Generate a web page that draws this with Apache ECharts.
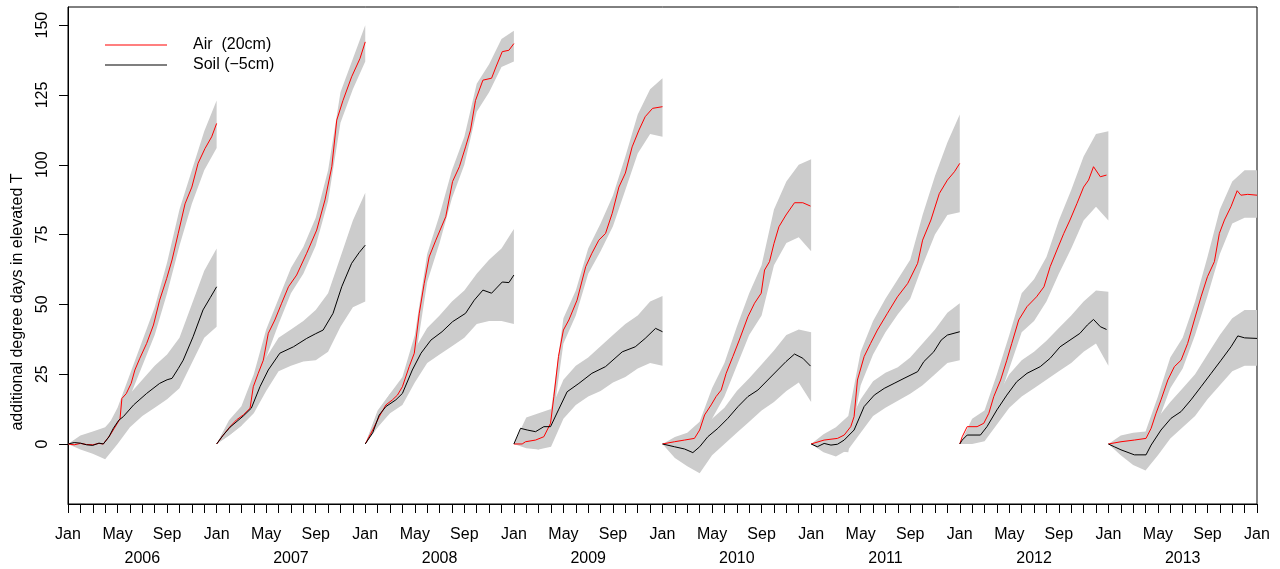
<!DOCTYPE html>
<html>
<head>
<meta charset="utf-8">
<script src="https://cdn.jsdelivr.net/npm/echarts@6/dist/echarts.min.js"></script>
<style>
html,body{margin:0;padding:0;background:#fff;}
#chart{width:1280px;height:569px;}
</style>
</head>
<body>
<div id="chart"></div>
<script>
// ---- tick labels / categories ----
const years = ['2006','2007','2008','2009','2010','2011','2012','2013'];
const monthNames = ['Jan','','','','May','','','','Sep','','',''];
const yTicks = [0, 25, 50, 75, 100, 125, 150];
const yTitle = 'additional degree days in elevated T';
const airName = 'Air  (20cm)';
const soilName = 'Soil (\u22125cm)';

// ---- mean lines: [month within year, value] ----
const air2006 = [[0,0],[0.5,-0.3],[1,0.2],[1.5,-0.2],[2,-0.3],[2.5,0.2],[2.85,0],[3.4,3.2],[3.9,6.8],[4.2,9],[4.35,16.3],[4.7,18],[5.1,21.7],[5.4,26.5],[5.8,30.7],[6.35,36],[6.9,42.6],[7.4,51.5],[7.97,59.3],[8.4,65.9],[8.9,75.4],[9.45,86],[10.0,92],[10.5,100.5],[11.06,105.8],[11.6,110],[12,114.8]];
const soil2006 = [[0,0],[0.5,0.5],[1,0.3],[1.5,-0.3],[2,-0.5],[2.5,0.3],[2.85,0],[3.3,2.5],[3.66,5.6],[4.1,8.5],[4.47,9.8],[5.3,14],[6.35,18.1],[7.4,21.7],[8,23],[8.4,23.5],[8.9,27],[9.3,30],[10.1,38.4],[10.9,48],[11.5,52.5],[12,56.3]];
const air2007 = [[0,0],[0.54,3.2],[1.08,6.2],[1.6,8.6],[2.15,10.4],[2.7,12.8],[2.96,20.5],[3.36,25.3],[3.77,30],[4.17,39.6],[4.7,44.4],[5.25,50.4],[5.8,56.3],[6.46,60.5],[7.27,68.3],[8.08,76.6],[8.75,87.4],[9.3,99.3],[9.7,116],[10.2,123],[10.9,131.5],[11.57,138],[12,144]];
const soil2007 = [[0,0],[0.5,3],[1.08,6],[2.15,10],[2.8,12.8],[3.5,20.5],[4.17,26.5],[5.1,32.5],[6.2,34.8],[7.27,37.8],[8.0,39.5],[8.6,40.8],[9.4,46.8],[10.1,56.3],[10.9,64.7],[11.5,68.5],[12,71.2]];
const air2008 = [[0,0],[0.6,5],[1.13,9.8],[1.67,14],[2.2,15.8],[2.6,17.5],[3.0,20.5],[3.55,27.7],[3.96,32.5],[4.36,46.8],[4.76,57.5],[5.16,67],[5.7,73],[6.5,81.4],[7.05,94],[7.6,99.3],[8.1,106.4],[8.5,112.4],[8.9,123],[9.5,130.3],[10.2,131],[10.55,135],[11.06,140.5],[11.6,141],[12,143.4]];
const soil2008 = [[0,0],[0.6,4],[1.13,10.4],[1.67,13.4],[2.47,15.8],[3.0,18.1],[3.8,26.5],[4.5,32.5],[5.3,37.2],[6.2,40.2],[7.05,43.8],[8.1,46.8],[8.8,51.5],[9.5,55.1],[10.2,54],[11.06,58],[11.6,57.8],[12,60.5]];
const air2009 = [[0,0],[0.67,0],[0.94,0.8],[1.75,1.4],[2.42,2.6],[2.96,7.4],[3.23,17],[3.6,31.3],[4.0,40.8],[4.44,44.4],[5.1,51.5],[5.8,63.5],[6.3,68.3],[6.86,73],[7.4,75.4],[7.94,82.6],[8.48,92],[9.0,97],[9.55,106.4],[10.1,112.4],[10.6,117.2],[11.2,120.2],[12,120.8]];
const soil2009 = [[0,0],[0.54,5.6],[1.08,5],[1.75,4.4],[2.42,6.2],[2.96,6.2],[3.6,12.2],[4.3,18.7],[5.25,21.7],[6.3,25.3],[7.4,27.7],[8.75,33],[9.8,34.8],[10.6,37.8],[11.44,41.4],[12,40.2]];
const air2010 = [[0,0],[0.97,0.8],[1.78,1.4],[2.58,2],[3.0,5],[3.4,10.4],[3.93,14],[4.33,17],[4.74,19.3],[5.14,25.3],[5.68,31.3],[6.2,37.2],[6.9,45.6],[7.43,50.4],[7.97,54],[8.24,62.3],[8.64,65.3],[9.0,71.8],[9.4,77.8],[9.97,82],[10.66,86.4],[11.33,86.4],[11.95,85.2]];
const soil2010 = [[0,0],[0.97,-1],[1.78,-1.8],[2.45,-3.1],[3.0,-1],[3.66,2.6],[4.47,5.6],[5.28,9.2],[6.1,13.4],[6.9,17],[7.7,19.3],[8.5,22.9],[9.3,26.5],[9.97,29.5],[10.66,32.2],[11.33,30.7],[11.95,27.9]];
const air2011 = [[0,0],[1.05,1.4],[2.13,2],[2.67,3.2],[3.2,6.2],[3.47,9.8],[3.74,22.9],[4.28,31.3],[4.8,36],[5.35,40.8],[6.16,46.8],[6.97,52.7],[7.8,57.5],[8.6,64.7],[9.0,73],[9.67,80.2],[10.35,89.7],[11.0,94.5],[11.57,97.5],[12,100.5]];
const soil2011 = [[0,0],[0.5,-1],[1.05,0.2],[1.6,-0.4],[2.13,-0.1],[2.67,1.4],[3.47,5],[4.28,13.4],[5.1,17.5],[5.9,19.9],[6.7,21.7],[7.5,23.5],[8.6,25.9],[9.1,29.5],[9.9,33],[10.5,37.2],[11.0,39],[12,40.2]];
const air2012 = [[0,0],[0.2,2.6],[0.6,6.2],[1.4,6.2],[1.94,7.4],[2.35,11],[2.75,17],[3.3,22.9],[3.8,30],[4.2,36],[4.76,44.4],[5.43,49.2],[6.2,52.7],[6.8,56.3],[7.3,63.5],[7.85,69.5],[8.4,75.4],[8.9,80.2],[9.47,86.2],[10.0,92],[10.4,94.5],[10.8,99.3],[11.35,95.7],[11.85,96.3]];
const soil2012 = [[0,0],[0.2,1.4],[0.6,3.2],[1.67,3.2],[2.2,6.2],[3.0,12.2],[3.8,17.5],[4.6,22.3],[5.43,25.3],[6.5,27.7],[7.3,30.7],[8.1,34.8],[8.9,37.2],[9.7,39.6],[10.3,42.6],[10.8,44.6],[11.35,42],[11.85,41]];
const air2013 = [[0,0],[1.02,0.8],[2.1,1.4],[3.04,2],[3.45,5.6],[3.85,11],[4.25,15.8],[4.8,22.9],[5.33,27.7],[5.87,30],[6.4,36],[6.94,44.4],[7.48,52.7],[8.0,59.9],[8.56,65.3],[8.96,75.4],[9.37,80.2],[9.9,85],[10.4,90.7],[10.7,89.1],[11.25,89.4],[12,89.1]];
const soil2013 = [[0,0],[0.48,-1],[1.02,-2.1],[2.1,-3.9],[3.04,-3.9],[3.45,-0.4],[4.25,5],[5.06,9.2],[5.87,11.6],[6.67,15.8],[7.48,20.5],[8.3,25.3],[9.1,30],[9.9,34.8],[10.45,38.7],[11.0,38],[12,37.8]];

// ---- uncertainty bands, sampled at these months of each year ----
const bandMonths = [0,1,2,3,4,5,6,7,8,9,10,11,12];
const airLo2006 = [0,-1.5,-2,-2,5,17,28,39,54,71,86,98,106];
const airHi2006 = [0,2.5,3.5,4.5,13,25,37,49,65,84,98,112,123];
const soilLo2006 = [0,-2,-3.5,-5.5,0,6,10,13,16,20,29,38,42];
const soilHi2006 = [0,3,4.5,6,11,18,23,28,32,38,50,62,70];
const airLo2007 = [0,3,6.5,16,31,43,54,61,71,87,115,127,137];
const airHi2007 = [0,8.5,13.5,25,41,52,63,70.5,81,98,126,138,150];
const soilLo2007 = [0,3,6.5,11,19,26,28,29.5,30,33,42,49,51];
const soilHi2007 = [0,8,13,19,31,38,41,44,48,54,67,80,90];
const airLo2008 = [0,6,12,17,29,58,72,88,100,119,126,135,137];
const airHi2008 = [0,11.5,18,24,39,68,82,98,110,129,136,145,148];
const soilLo2008 = [0,6,11,14,22,29,32,35,38,43,44,44,43];
const soilHi2008 = [0,12,18,22.5,34,41.5,46,51,55,61,66,70,77];
const airLo2009 = [0,-1.5,-2,4,36,46,61,69,78,91,104,111,110];
const airHi2009 = [0,3,5,12,45,55,70,79,89,103,118,127,131];
const soilLo2009 = [0,-1,-2,-1,9,14,17,19,22,24,27,29,28];
const soilHi2009 = [0,9.5,11,12.5,23,28,31,35,39,43,46,51,53];
const airLo2010 = [0,-1,-1.5,-2,9,17,28,39,46,64,72,74,69];
const airHi2010 = [0,2.5,4,8,20,29,42,54,64,84,94,100,102];
const soilLo2010 = [0,-5,-8,-10.5,-4,0,4,8,12,15,19,22,15];
const soilHi2010 = [0,1.5,2.5,5,9,13,19,23.5,28.5,33.5,39,41,40];
const airLo2011 = [0,-1,-2.5,-3,21,32,40,46.5,52,64,75,82,83];
const airHi2011 = [0,3.5,6,10,33,44,52,59,66,82,96,108,118];
const soilLo2011 = [0,-3,-4.5,-2,4,10,13,15.5,18,21,25,29,30];
const soilHi2011 = [0,2.5,3,7,16,22.5,25.5,27.5,31,36,41,47,50.4];
const airLo2012 = [0,3,4,14,27,40,44,51,61,70,80,85,80];
const airHi2012 = [0,9,12,25,39,54,59,67,80,91,103,111,112];
const soilLo2012 = [0,0,1,7,13,17,20,23,26,29,33,36,28];
const soilHi2012 = [0,6.5,9.5,17,25,30,33,37,41.5,46,51,55,54.5];
const airLo2013 = [0,-1,-1,-1,8,20,27,39,53,68,79,81,81];
const airHi2013 = [0,3,4,4.5,17,31,38,51,67,84,94,98,98];
const soilLo2013 = [0,-4,-7.5,-9.5,-4,2,6,10,16,21,26,28,28];
const soilHi2013 = [0,0.5,0.5,1.5,9.5,15,20,25,32,39,45,48,48];

// ---- assemble ----
const airLines = [air2006,air2007,air2008,air2009,air2010,air2011,air2012,air2013];
const soilLines = [soil2006,soil2007,soil2008,soil2009,soil2010,soil2011,soil2012,soil2013];
const airLo = [airLo2006,airLo2007,airLo2008,airLo2009,airLo2010,airLo2011,airLo2012,airLo2013];
const airHi = [airHi2006,airHi2007,airHi2008,airHi2009,airHi2010,airHi2011,airHi2012,airHi2013];
const soilLo = [soilLo2006,soilLo2007,soilLo2008,soilLo2009,soilLo2010,soilLo2011,soilLo2012,soilLo2013];
const soilHi = [soilHi2006,soilHi2007,soilHi2008,soilHi2009,soilHi2010,soilHi2011,soilHi2012,soilHi2013];

const FONT = '"Liberation Sans", Arial, Helvetica, sans-serif';
const BAND = '#cccccc';

function bandSeries(offset, lo, hi) {
  const pts = bandMonths.map((m, i) => [offset + m, lo[i], hi[i]]);
  return {
    type: 'custom', coordinateSystem: 'cartesian2d', silent: true, z: 1,
    data: pts, encode: { x: 0, y: [1, 2] },
    renderItem: function (params, api) {
      if (params.dataIndex !== 0) return null;
      const up = pts.map(p => api.coord([p[0], p[2]]));
      const dn = pts.map(p => api.coord([p[0], p[1]])).reverse();
      return { type: 'polygon', shape: { points: up.concat(dn) }, style: { fill: BAND, stroke: null } };
    }
  };
}
function lineSeries(name, color, offset, arr) {
  return {
    type: 'line', name: name, silent: true, z: 3, symbol: 'none', showSymbol: false,
    data: arr.map(p => [offset + p[0], p[1]]),
    lineStyle: { color: color, width: 1 }, itemStyle: { color: color }
  };
}

const series = [];
years.forEach((y, k) => {
  series.push(bandSeries(k * 12, airLo[k], airHi[k]));
  series.push(bandSeries(k * 12, soilLo[k], soilHi[k]));
});
years.forEach((y, k) => {
  series.push(lineSeries(airName, '#ff0000', k * 12, airLines[k]));
  series.push(lineSeries(soilName, '#000000', k * 12, soilLines[k]));
});

const xMax = years.length * 12;
const chart = echarts.init(document.getElementById('chart'), null, { renderer: 'canvas' });
chart.setOption({
  animation: false,
  backgroundColor: '#ffffff',
  textStyle: { fontFamily: FONT },
  grid: { left: 68, right: 23, top: 7, bottom: 65, show: true, borderColor: '#000', borderWidth: 1, backgroundColor: 'transparent' },
  legend: {
    data: [
      { name: airName, icon: 'rect', itemStyle: { color: '#ff0000' } },
      { name: soilName, icon: 'rect', itemStyle: { color: '#000000' } }
    ],
    orient: 'vertical', left: 100, top: 31,
    itemWidth: 62, itemHeight: 1, itemGap: 2, selectedMode: false,
    textStyle: { fontFamily: FONT, fontSize: 16, color: '#000', padding: [0, 0, 0, 21], lineHeight: 18 }
  },
  xAxis: [{
    type: 'value', min: 0, max: xMax, interval: 1,
    axisLine: { show: true, onZero: false, lineStyle: { color: '#000' } },
    axisTick: { show: true, length: 9, lineStyle: { color: '#000' } },
    splitLine: { show: false },
    axisLabel: { margin: 23, fontSize: 16, color: '#000', fontFamily: FONT,
      formatter: v => monthNames[Math.round(v) % 12] }
  }, {
    type: 'value', min: 0, max: xMax, interval: 1, position: 'bottom', offset: 24,
    axisLine: { show: false, onZero: false }, axisTick: { show: false }, splitLine: { show: false },
    axisLabel: { margin: 23, fontSize: 16, color: '#000', fontFamily: FONT,
      formatter: v => (Math.round(v) % 12 === 6 ? years[Math.floor(Math.round(v) / 12)] : '') }
  }],
  yAxis: {
    type: 'value', min: -21.5, max: 156.5,
    axisLine: { show: true, onZero: false, lineStyle: { color: '#000' } },
    axisTick: { show: true, length: 9, customValues: yTicks, lineStyle: { color: '#000' } },
    splitLine: { show: false },
    axisLabel: { customValues: yTicks, rotate: 90, margin: 17, fontSize: 16, color: '#000', fontFamily: FONT }
  },
  graphic: [{
    type: 'text', x: 18, y: 302, rotation: Math.PI / 2,
    style: { text: yTitle, fill: '#000', font: '16px ' + FONT, align: 'center', verticalAlign: 'middle' }
  }],
  series: series
});
</script>
</body>
</html>
